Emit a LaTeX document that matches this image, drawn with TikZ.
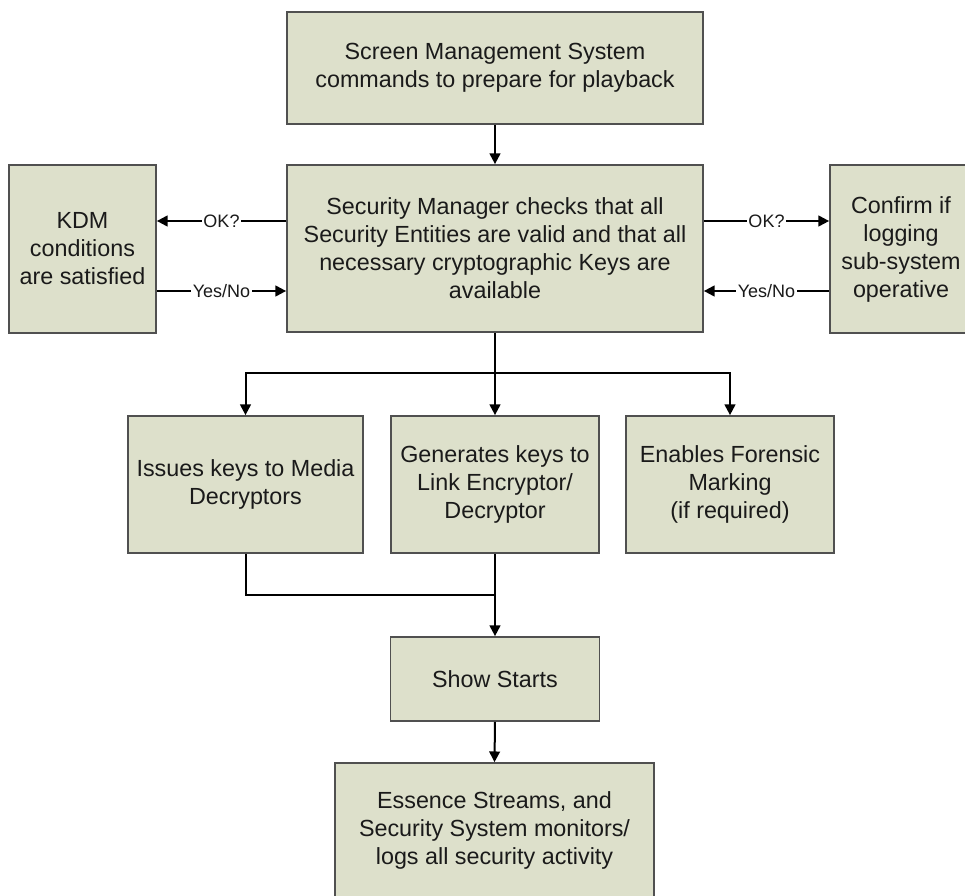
\documentclass[tikz,border=0pt]{standalone}
\usepackage{fontspec}
\setmainfont{Liberation Sans}
\usetikzlibrary{arrows.meta}
\definecolor{boxfill}{HTML}{DDE0CB}
\definecolor{boxline}{HTML}{505050}
\definecolor{txt}{HTML}{1A1A1A}
\tikzset{
  box/.style={draw=boxline, line width=1.3pt, fill=boxfill, align=center, text=txt,
    font=\fontsize{17.5pt}{21pt}\selectfont, inner sep=2pt},
  conn/.style={draw=black, line width=1.5pt},
  arr/.style={conn, -{Triangle[length=8pt,width=8pt]}},
  lbl/.style={fill=white, inner sep=1pt, text=txt, font=\fontsize{13.5pt}{15pt}\selectfont}
}
\begin{document}
\begin{tikzpicture}[x=0.75pt,y=-0.75pt]
\useasboundingbox (0,0) rectangle (965,896);
\begin{scope}
\clip (0,0) rectangle (965,896);
\node[box, minimum width=312pt, minimum height=84pt] (top) at (495,68)
  {Screen Management System\\commands to prepare for playback};
\node[box, minimum width=312pt, minimum height=125.25pt] (sec) at (495,248.5)
  {Security Manager checks that all\\Security Entities are valid and that all\\necessary cryptographic Keys are\\available};
\node[box, minimum width=110.25pt, minimum height=126pt] (kdm) at (82.5,249)
  {KDM\\conditions\\are satisfied};
\node[box, minimum width=106.5pt, minimum height=126pt] (log) at (901,249)
  {Confirm if\\logging\\sub-system\\operative};
\node[box, minimum width=176.25pt, minimum height=102.75pt] (media) at (245.5,484.5)
  {Issues keys to Media\\Decryptors};
\node[box, minimum width=156pt, minimum height=102.75pt] (link) at (495,484.5)
  {Generates keys to\\Link Encryptor/\\Decryptor};
\node[box, minimum width=156pt, minimum height=102.75pt] (foren) at (730,484.5)
  {Enables Forensic\\Marking\\(if required)};
\node[box, minimum width=156.75pt, minimum height=63pt] (show) at (495,679)
  {Show Starts};
\node[box, minimum width=239.25pt, minimum height=100.5pt] (ess) at (494.5,830)
  {Essence Streams, and\\Security System monitors/\\logs all security activity};
\end{scope}
\coordinate (split) at (495,373);
\coordinate (merge) at (495,595);
\draw[arr] (top.south) -- (sec.north);
\draw[arr] (sec.west |- 0,221) -- node[lbl]{OK?} (kdm.east |- 0,221);
\draw[arr] (kdm.east |- 0,291) -- node[lbl]{Yes/No} (sec.west |- 0,291);
\draw[arr] (sec.east |- 0,221) -- node[lbl]{OK?} (log.west |- 0,221);
\draw[arr] (log.west |- 0,291) -- node[lbl]{Yes/No} (sec.east |- 0,291);
\draw[conn] (sec.south) -- (split);
\draw[arr] (split) -- (link.north);
\draw[arr] (split) -| (media.north);
\draw[arr] (split) -| (foren.north);
\draw[conn] (media.south) |- (merge);
\draw[conn] (link.south) -- (merge);
\draw[arr] (merge) -- (show.north);
\draw[arr] (show.south) -- (ess.north);
\end{tikzpicture}
\end{document}
